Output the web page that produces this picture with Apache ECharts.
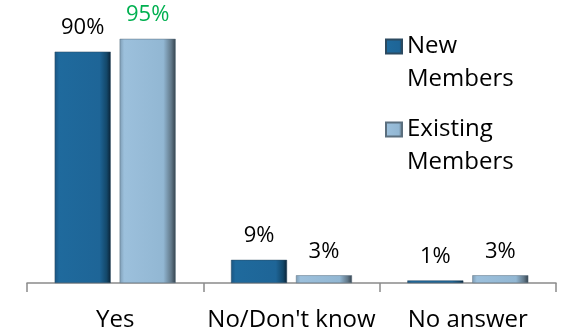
<!DOCTYPE html>
<html>
<head>
<meta charset="utf-8">
<script src="https://cdn.jsdelivr.net/npm/echarts@6/dist/echarts.min.js"></script>
<style>
  html, body { margin: 0; padding: 0; background: #fff; }
  #chart { width: 567px; height: 334px; }
</style>
</head>
<body>
<div id="chart"></div>
<script>
// Survey answers by member type (percent of respondents)
const categories = ['Yes', "No/Don't know", 'No answer'];
const seriesNames = ['New\nMembers', 'Existing\nMembers'];
const newMembers = [90, 9, 1];
const existingMembers = [95, 3, 3];
// Label colour per existing-members bar (the headline value is highlighted)
const existingLabelColors = ['#00b050', '#000000', '#000000'];

const FONT = '"Open Sans", sans-serif';

// Bevelled look: darker edges, lighter body
const darkBlue = new echarts.graphic.LinearGradient(0, 0, 1, 0, [
  { offset: 0, color: '#1a5582' },
  { offset: 0.08, color: '#1f6a9d' },
  { offset: 0.8, color: '#1e6597' },
  { offset: 0.93, color: '#134769' },
  { offset: 1, color: '#0a2236' }
]);
const lightBlue = new echarts.graphic.LinearGradient(0, 0, 1, 0, [
  { offset: 0, color: '#7e9db5' },
  { offset: 0.08, color: '#9cc0dc' },
  { offset: 0.78, color: '#92b7d3' },
  { offset: 0.92, color: '#62798a' },
  { offset: 1, color: '#34424d' }
]);

const chart = echarts.init(document.getElementById('chart'), null, { renderer: 'canvas' });

const labelBase = {
  show: true,
  position: 'top',
  distance: 13,
  fontFamily: FONT,
  fontSize: 22,
  color: '#000',
  formatter: p => p.value + '%'
};

chart.setOption({
  animation: false,
  backgroundColor: '#ffffff',
  grid: { left: 27, right: 11, top: 26, bottom: 51 },
  legend: {
    orient: 'vertical',
    left: 380,
    top: -8,
    itemWidth: 16,
    itemHeight: 14,
    itemGap: -16,
    icon: 'rect',
    selectedMode: false,
    // a blank leading line keeps the first word level with the swatch
    formatter: name => ' \n' + name,
    textStyle: {
      fontFamily: FONT,
      fontSize: 24,
      lineHeight: 33,
      color: '#000'
    },
    data: seriesNames
  },
  xAxis: {
    type: 'category',
    data: categories,
    axisLine: { lineStyle: { color: '#8a8a8a', width: 1.5 } },
    axisTick: { show: true, length: 9, lineStyle: { color: '#8a8a8a', width: 1.5 } },
    axisLabel: { fontFamily: FONT, fontSize: 24, color: '#000', margin: 25, interval: 0 }
  },
  yAxis: {
    type: 'value',
    min: 0,
    max: 100,
    show: false,
    splitLine: { show: false }
  },
  series: [
    {
      name: seriesNames[0],
      type: 'bar',
      barWidth: 56,
      barGap: '16%',
      data: newMembers,
      itemStyle: { color: darkBlue, borderColor: '#2c4a60', borderWidth: 0.5 },
      label: labelBase
    },
    {
      name: seriesNames[1],
      type: 'bar',
      barWidth: 56,
      data: existingMembers.map((v, i) => ({
        value: v,
        label: { color: existingLabelColors[i] }
      })),
      itemStyle: { color: lightBlue, borderColor: '#5b6f7e', borderWidth: 0.5 },
      label: labelBase
    }
  ]
});
</script>
</body>
</html>
